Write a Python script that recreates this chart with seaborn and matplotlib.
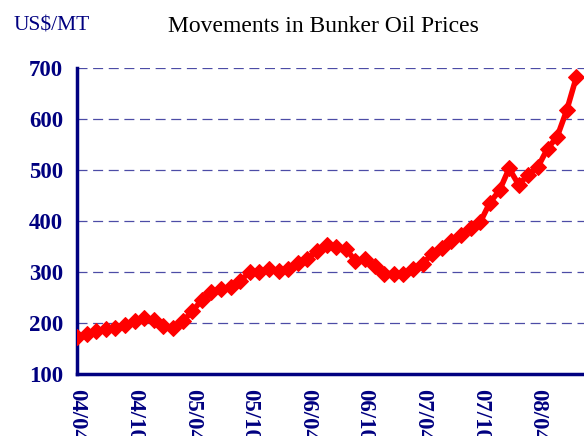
import matplotlib
matplotlib.use("Agg")
import matplotlib.pyplot as plt
import seaborn as sns
import pandas as pd

months = [f"{y:02d}/{m:02d}" for y in range(4, 9) for m in range(1, 13)]
months = [m for m in months if "04/04" <= m <= "08/08"]

prices_2004 = [172, 178, 184, 188, 191, 197, 203, 210, 205]
prices_2005 = [195, 191, 203, 223, 245, 260, 267, 271, 283, 300, 300, 306]
prices_2006 = [302, 306, 317, 325, 342, 352, 349, 346, 321, 325, 312, 297]
prices_2007 = [297, 297, 305, 316, 336, 347, 360, 373, 386, 398, 436, 460]
prices_2008 = [503, 471, 491, 506, 542, 565, 617, 682]
prices = prices_2004 + prices_2005 + prices_2006 + prices_2007 + prices_2008

tick_labels = ["04/04", "04/10", "05/04", "05/10", "06/04", "06/10", "07/04", "07/10", "08/04"]
y_ticks = [100, 200, 300, 400, 500, 600, 700]

df = pd.DataFrame({"month": months, "idx": range(len(months)), "price": prices})

sns.set_theme(style="white")
plt.rcParams["font.family"] = ["Liberation Serif", "DejaVu Serif"]

navy = "#000080"
fig = plt.figure(figsize=(5.84, 4.36), dpi=100)
ax = fig.add_axes([77/584, (436-374)/436, 507/584, 306/436])

for v in y_ticks[1:]:
    ax.axhline(v, color=navy, lw=0.9, ls=(0, (8, 4.5)), alpha=0.7, zorder=1)

sns.lineplot(data=df, x="idx", y="price", ax=ax, color="#ff0000", lw=4,
             marker="D", markersize=8.5, markeredgecolor="#ff0000", zorder=3)

ax.set_xlim(0, 52.8)
ax.set_ylim(100, 700)
ax.set_yticks(y_ticks)
ax.set_yticklabels([str(v) for v in y_ticks], fontsize=16.5, fontweight="bold", color=navy)
tick_pos = [months.index(t) for t in tick_labels]
ax.set_xticks(tick_pos)
ax.set_xticklabels(tick_labels, rotation=-90, fontsize=16.5, fontweight="bold", color=navy,
                   va="top", ha="center")
ax.tick_params(axis="both", direction="in", length=6, width=2, color=navy)
ax.tick_params(axis="y", pad=10)
ax.tick_params(axis="x", pad=11)
ax.set_xlabel("")
ax.set_ylabel("")
for s in ["top", "right"]:
    ax.spines[s].set_visible(False)
for s in ["left", "bottom"]:
    ax.spines[s].set_color(navy)
    ax.spines[s].set_linewidth(2.5)
ax.grid(False)

fig.text(323/584, 1 - 26/436, "Movements in Bunker Oil Prices", ha="center", va="center",
         fontsize=17, color="black")
fig.text(14/584, 1 - 26/436, "US$/MT", ha="left", va="center", fontsize=15.5, color=navy)

fig.savefig("out.png", dpi=100)
